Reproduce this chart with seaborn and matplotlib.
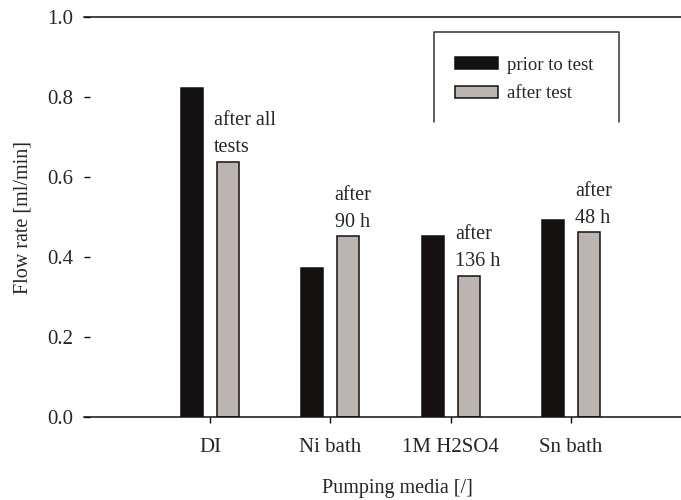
import matplotlib
matplotlib.use("Agg")
import matplotlib.pyplot as plt
from matplotlib.lines import Line2D
import seaborn as sns
import pandas as pd

# Flow rate of the pump for each pumping medium, before and after the test runs
media = ["DI", "Ni bath", "1M H2SO4", "Sn bath"]
prior_to_test = [0.824, 0.372, 0.454, 0.493]
after_test = [0.639, 0.452, 0.353, 0.462]
after_notes = ["after all\ntests", "after\n90 h", "after\n136 h", "after\n48 h"]
conditions = ["prior to test", "after test"]
colors = ["#151111", "#bbb4b1"]
y_ticks = [0.0, 0.2, 0.4, 0.6, 0.8, 1.0]

df = pd.DataFrame({
    "media": media * 2,
    "condition": [conditions[0]] * len(media) + [conditions[1]] * len(media),
    "flow": prior_to_test + after_test,
})

sns.set_theme(style="white")
plt.rcParams["font.family"] = ["Liberation Serif", "DejaVu Serif"]

W, H = 681, 500
fig = plt.figure(figsize=(W / 100, H / 100), dpi=100)
ax = fig.add_axes([84 / W, 1 - 417 / H, 1 - 84 / W, (417 - 17.3) / H])

sns.barplot(
    data=df, x="media", y="flow", hue="condition", order=media,
    hue_order=conditions, palette=colors, width=0.6, gap=0.39,
    edgecolor="#111111", linewidth=1.1, saturation=1, ax=ax,
)

ax.set_xlim(-1.047, 3.915)
ax.set_ylim(0, 1.0)
ax.set_yticks(y_ticks)
ax.set_yticklabels([f"{t:.1f}" for t in y_ticks])

for side in ["left", "right"]:
    ax.spines[side].set_visible(False)
for side in ["top", "bottom"]:
    ax.spines[side].set_visible(True)
    ax.spines[side].set_color("#111111")
    ax.spines[side].set_linewidth(1.1)

ax.tick_params(axis="y", direction="in", length=4.5, width=1.0, color="#111111",
               labelsize=15, pad=8, left=True)
ax.tick_params(axis="x", direction="out", length=4, width=1.0, color="#111111",
               labelsize=15, pad=11, bottom=True)

ax.set_xlabel("Pumping media [/]", fontsize=14.5, va="center")
ax.set_ylabel("Flow rate [ml/min]", fontsize=14.5, va="center")
ax.xaxis.set_label_coords((397 - 84) / (W - 84), -(489 - 417) / (417 - 17.3))
ax.yaxis.set_label_coords((23 - 84) / (W - 84), 0.5)

# Notes above the "after test" bars
for bar, note in zip(ax.containers[1], after_notes):
    ax.annotate(note, xy=(bar.get_x(), bar.get_height()),
                xytext=(-2, 7), textcoords="offset points",
                ha="left", va="baseline", fontsize=14.5, linespacing=1.55)

# Legend with an open-bottom frame
ax.legend(loc="upper left", bbox_to_anchor=(455 / W, 1 - 57 / H),
          bbox_transform=fig.transFigure, frameon=False, fontsize=13.5,
          handlelength=2.3, handleheight=0.6, handletextpad=0.45,
          labelspacing=0.6, borderpad=0, borderaxespad=0)
frame_x = [434 / W, 434 / W, 619 / W, 619 / W]
frame_y = [1 - 122 / H, 1 - 32 / H, 1 - 32 / H, 1 - 122 / H]
fig.add_artist(Line2D(frame_x, frame_y, transform=fig.transFigure,
                      color="#333333", linewidth=1.1))

fig.savefig("out.png", dpi=100)
